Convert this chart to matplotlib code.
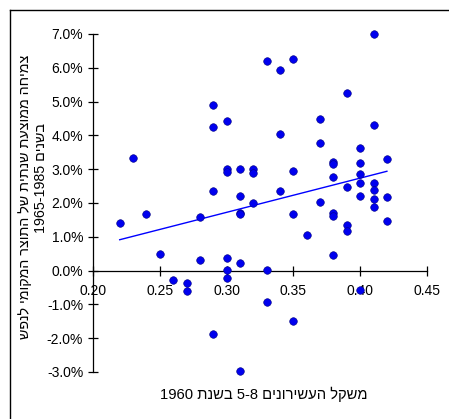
import re
import numpy as np
import matplotlib
matplotlib.use('Agg')
import matplotlib.pyplot as plt
from matplotlib.lines import Line2D
from matplotlib.ticker import FuncFormatter

# share of deciles 5-8 in 1960
share_1960 = [0.41, 0.33, 0.34, 0.35, 0.39, 0.29, 0.29, 0.30, 0.34, 0.37,
              0.37, 0.41, 0.23, 0.40, 0.42, 0.30, 0.30, 0.31, 0.32, 0.32,
              0.35, 0.38, 0.38, 0.40, 0.38, 0.40, 0.40, 0.41, 0.39, 0.41,
              0.29, 0.31, 0.34, 0.40, 0.41, 0.42, 0.41, 0.37, 0.32, 0.31,
              0.31, 0.35, 0.28, 0.24, 0.22, 0.38, 0.38, 0.39, 0.39, 0.42,
              0.36, 0.25, 0.28, 0.30, 0.31, 0.30, 0.33, 0.38, 0.30, 0.26,
              0.27, 0.27, 0.40, 0.33, 0.35, 0.29, 0.31]
# average annual growth of GDP per capita 1965-1985 (%)
growth = [7.00, 6.19, 5.93, 6.26, 5.26, 4.91, 4.24, 4.42, 4.05, 4.48,
          3.77, 4.30, 3.34, 3.63, 3.31, 3.00, 2.92, 3.01, 3.01, 2.88,
          2.95, 3.20, 3.15, 3.19, 2.77, 2.85, 2.59, 2.60, 2.48, 2.37,
          2.35, 2.21, 2.35, 2.21, 2.11, 2.17, 1.88, 2.02, 1.99, 1.69,
          1.67, 1.67, 1.60, 1.67, 1.42, 1.71, 1.62, 1.35, 1.16, 1.46,
          1.06, 0.49, 0.31, 0.38, 0.22, 0.03, 0.03, 0.46, -0.22, -0.29,
          -0.36, -0.61, -0.57, -0.93, -1.50, -1.88, -2.98]

x_ticks = [0.20, 0.25, 0.30, 0.35, 0.40, 0.45]
y_ticks = [-3, -2, -1, 0, 1, 2, 3, 4, 5, 6, 7]

x_label = 'משקל העשירונים 5-8 בשנת 1960'
y_label_1 = 'צמיחה ממוצעת שנתית של התוצר המקומי לנפש'
y_label_2 = 'בשנים 1965-1985'


def visual(s):
    # matplotlib has no bidi support: flip hebrew to visual order,
    # keep number runs as typed
    r = s[::-1]
    return re.sub(r'[0-9][0-9\-\.%]*', lambda m: m.group(0)[::-1], r)


fonts = ['Liberation Sans', 'DejaVu Sans']
plt.rcParams['font.family'] = fonts

fig = plt.figure(figsize=(4.49, 4.19), dpi=100)
ax = fig.add_axes([0.2071, 0.1122, 0.7439, 0.8067])

x = np.array(share_1960)
y = np.array(growth)
ax.scatter(x, y, s=30, color='#0000ee', edgecolors='#000080',
           linewidths=0.4, zorder=3, clip_on=False)

# linear trend line
k, b = np.polyfit(x, y, 1)
xs = np.array([x.min(), x.max()])
ax.plot(xs, k * xs + b, color='#0000ff', lw=1.0, zorder=2)

ax.set_xlim(0.20, 0.45)
ax.set_ylim(-3, 7)
ax.set_xticks(x_ticks)
ax.set_yticks(y_ticks)
ax.xaxis.set_major_formatter(FuncFormatter(lambda v, p: '%.2f' % v))
ax.yaxis.set_major_formatter(FuncFormatter(lambda v, p: '%.1f%%' % v))

for side in ['top', 'right']:
    ax.spines[side].set_visible(False)
ax.spines['bottom'].set_position(('data', 0))
ax.spines['left'].set_linewidth(0.9)
ax.spines['bottom'].set_linewidth(0.9)
ax.tick_params(direction='inout', length=7, width=0.9, labelsize=10,
               colors='black')
ax.tick_params(axis='x', pad=6.5)
ax.tick_params(axis='y', pad=3.6)

fig.text(25 / 449, 1 - 197 / 419, visual(y_label_1),
         rotation=90, ha='center', va='center', fontsize=10.3)
fig.text(41 / 449, 1 - 178 / 419, visual(y_label_2),
         rotation=90, ha='center', va='center', fontsize=10.3)
fig.text(264 / 449, 1 - 394 / 419, visual(x_label),
         ha='center', va='center', fontsize=10.6)

# chart frame (only left and top edges visible)
fig.add_artist(Line2D([10 / 449, 10 / 449], [0, 1 - 10 / 419],
                      transform=fig.transFigure, color='black', lw=1.0))
fig.add_artist(Line2D([10 / 449, 1], [1 - 10 / 419, 1 - 10 / 419],
                      transform=fig.transFigure, color='black', lw=1.0))

fig.savefig('out.png', dpi=100)
